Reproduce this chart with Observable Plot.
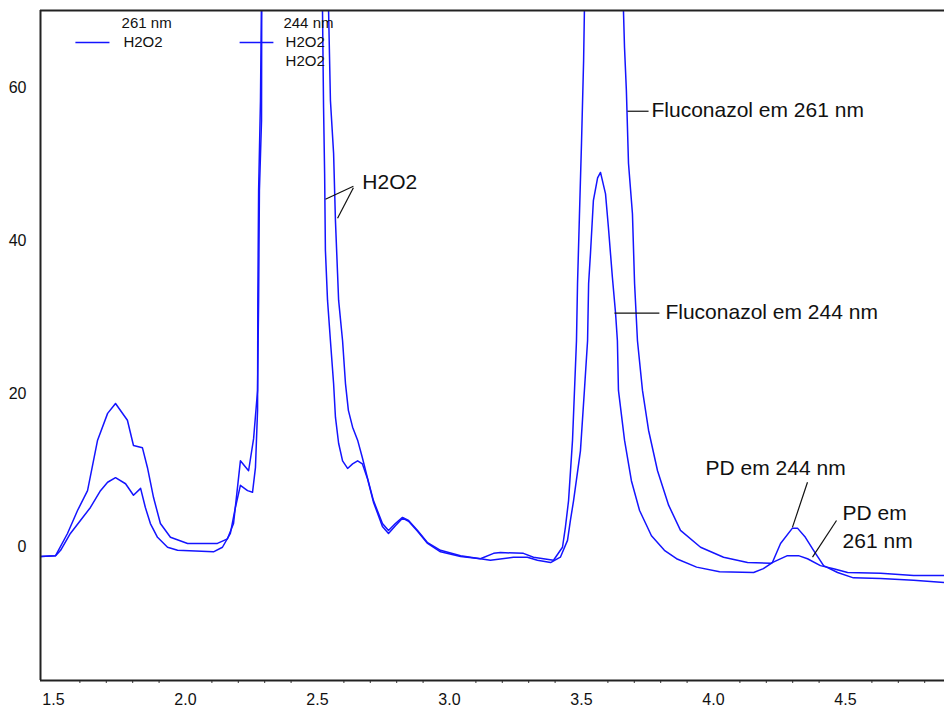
<!DOCTYPE html>
<html><head><meta charset="utf-8">
<script src="https://cdn.jsdelivr.net/npm/d3@7"></script>
<script src="https://cdn.jsdelivr.net/npm/@observablehq/plot@0.6"></script>
<style>body{margin:0;background:#fff} #chart svg{display:block}</style>
</head><body><div id="chart"></div>
<script>
// ---- data: retention time (min) and signal (mAU) ----
const x244 = [1.451,1.508,1.553,1.591,1.629,1.667,1.705,1.735,1.780,1.803,1.837,1.856,1.879,1.905,1.943,2.008,2.121,2.159,2.182,2.208,2.239,2.258,2.273,2.277,2.280,2.288,2.289,2.30,2.40,2.50,2.542,2.549,2.561,2.568,2.576,2.580,2.595,2.606,2.617,2.633,2.652,2.670,2.689,2.712,2.746,2.769,2.795,2.822,2.845,2.879,2.917,2.966,3.042,3.117,3.155,3.242,3.295,3.333,3.383,3.420,3.447,3.458,3.470,3.496,3.511,3.523,3.527,3.534,3.545,3.561,3.572,3.591,3.602,3.617,3.629,3.636,3.640,3.663,3.689,3.720,3.765,3.814,3.860,3.936,4.023,4.152,4.189,4.223,4.254,4.299,4.318,4.348,4.379,4.417,4.470,4.530,4.633,4.758,4.875];
const y244 = [-1.3,-1.2,1.7,4.7,7.3,13.9,17.4,18.7,16.5,13.2,12.9,10.3,6.4,3.0,1.2,0.4,0.4,1.0,3.0,11.2,9.9,14.1,20.4,32.2,46.5,55.7,75,200,300,200,70,58.3,51.4,42.6,35.7,32.2,26.9,21.3,17.8,15.6,13.9,11.6,9.0,6.0,3.0,2.1,3.0,3.8,3.4,2.1,0.5,-0.5,-1.2,-1.6,-1.8,-1.4,-1.4,-1.8,-2.1,-1.4,0.8,3.4,6.0,12.5,20.4,26.9,34.4,38.3,45.2,48.2,48.9,46.1,41.7,35.2,30.5,26.9,20.4,13.9,8.6,4.7,1.4,-0.5,-1.6,-2.7,-3.3,-3.4,-2.9,-2.1,0.4,2.4,2.4,1.2,-0.5,-2.5,-3.4,-4.1,-4.2,-4.4,-4.7];

const x261 = [1.451,1.508,1.527,1.564,1.602,1.640,1.678,1.705,1.735,1.773,1.803,1.830,1.848,1.867,1.894,1.932,1.970,2.106,2.140,2.170,2.189,2.208,2.235,2.254,2.265,2.273,2.274,2.277,2.284,2.288,2.30,2.40,2.48,2.519,2.523,2.527,2.530,2.538,2.549,2.561,2.568,2.580,2.595,2.614,2.633,2.652,2.670,2.689,2.712,2.746,2.769,2.795,2.822,2.845,2.879,2.917,2.966,3.042,3.117,3.167,3.193,3.280,3.318,3.394,3.428,3.439,3.451,3.466,3.481,3.485,3.492,3.500,3.508,3.511,3.53,3.57,3.62,3.659,3.663,3.670,3.678,3.693,3.701,3.712,3.731,3.754,3.788,3.830,3.875,3.951,4.038,4.129,4.216,4.280,4.322,4.356,4.405,4.455,4.508,4.633,4.758,4.875];
const y261 = [-1.3,-1.2,-0.5,1.7,3.4,5.1,7.3,8.4,9.0,8.2,6.7,7.6,5.1,3.0,1.2,-0.1,-0.5,-0.7,-0.1,1.7,5.1,8.0,7.3,7.1,10.3,17.8,32.2,46.5,58.3,72,200,300,200,70,57.4,48.8,38.7,32.2,26.9,21.3,16.9,13.5,11.2,10.2,10.8,11.2,10.8,8.9,5.8,2.6,1.7,2.7,3.7,3.3,2.0,0.4,-0.7,-1.3,-1.6,-0.9,-0.8,-0.9,-1.4,-1.8,-0.1,2.5,6.0,13.9,26.9,34.4,43.0,52.7,63.5,70,85,95,85,70,65.2,59.6,50.1,43.5,34.4,26.9,20.4,15.2,9.9,5.4,2.1,-0.1,-1.4,-2.1,-2.2,-1.2,-1.2,-1.6,-2.5,-2.9,-3.4,-3.5,-3.8,-3.8];

// ---- axes ----
const xDomain = [1.4508, 4.875];
const yDomain = [-17.52, 70.07];
const xTickValues = [1.5, 2.0, 2.5, 3.0, 3.5, 4.0, 4.5];
const xTickLabels = ["1.5", "2.0", "2.5", "3.0", "3.5", "4.0", "4.5"];
const xMinorTicks = [1.6,1.7,1.8,1.9,2.1,2.2,2.3,2.4,2.6,2.7,2.8,2.9,3.1,3.2,3.3,3.4,3.6,3.7,3.8,3.9,4.1,4.2,4.3,4.4,4.6,4.7,4.8];
const yTickValues = [0, 20, 40, 60];
const yTickLabels = ["0", "20", "40", "60"];

// ---- annotations ----
const annoText = ["Fluconazol em 261 nm", "Fluconazol em 244 nm", "H2O2", "PD em 244 nm", "PD em", "261 nm"];
const annoX = [3.765, 3.818, 2.670, 3.970, 4.489, 4.489];
const annoY = [57.0, 30.6, 47.6, 10.2, 4.3, 0.65];
const leaderX1 = [3.674, 3.625, 2.636, 2.636, 4.356, 4.466];
const leaderY1 = [56.9, 30.5, 47.1, 46.9, 8.4, 3.4];
const leaderX2 = [3.754, 3.795, 2.530, 2.576, 4.299, 4.375];
const leaderY2 = [56.9, 30.5, 45.4, 42.9, 2.5, -1.4];

// ---- legend ----
const legendText = ["261 nm", "H2O2", "244 nm", "H2O2", "H2O2"];
const legendX = [1.758, 1.765, 2.371, 2.379, 2.379];
const legendY = [68.4, 65.9, 68.4, 65.9, 63.4];
const legendLineX1 = [1.583, 2.205];
const legendLineX2 = [1.712, 2.333];
const legendLineY = [65.9, 65.9];

const blue = "#1414ff";
const s244 = x244.map((x, i) => ({x, y: y244[i]}));
const s261 = x261.map((x, i) => ({x, y: y261[i]}));
const annos = annoText.map((t, i) => ({t, x: annoX[i], y: annoY[i]}));
const leaders = leaderX1.map((x1, i) => ({x1, y1: leaderY1[i], x2: leaderX2[i], y2: leaderY2[i]}));
const legends = legendText.map((t, i) => ({t, x: legendX[i], y: legendY[i]}));
const legendLines = legendLineX1.map((x1, i) => ({x1, x2: legendLineX2[i], y: legendLineY[i]}));
const xLab = new Map(xTickValues.map((v, i) => [v, xTickLabels[i]]));
const yLab = new Map(yTickValues.map((v, i) => [v, yTickLabels[i]]));

const chart = Plot.plot({
  width: 944, height: 709,
  marginLeft: 40, marginRight: 0, marginTop: 10, marginBottom: 29,
  x: {domain: xDomain, label: null},
  y: {domain: yDomain, label: null},
  style: {fontFamily: "'Liberation Sans', Arial, sans-serif", fontSize: "16px", background: "white", color: "#111"},
  marks: [
    Plot.axisX({ticks: xMinorTicks, tickSize: 3, tickFormat: () => "", label: null, stroke: "#333"}),
    Plot.axisX({ticks: xTickValues, tickSize: 0, tickPadding: 13, tickFormat: d => xLab.get(d), label: null, fontSize: 16}),
    Plot.axisY({ticks: yTickValues, tickSize: 0, tickPadding: 14, tickFormat: d => yLab.get(d), label: null, fontSize: 16}),
    Plot.line(s261, {x: "x", y: "y", stroke: blue, strokeWidth: 1.5, clip: true}),
    Plot.line(s244, {x: "x", y: "y", stroke: blue, strokeWidth: 1.5, clip: true}),
    Plot.link(leaders, {x1: "x1", y1: "y1", x2: "x2", y2: "y2", stroke: "#111", strokeWidth: 1.2}),
    Plot.text(annos, {x: "x", y: "y", text: "t", textAnchor: "start", fontSize: 21, fill: "#111"}),
    Plot.link(legendLines, {x1: "x1", x2: "x2", y1: "y", y2: "y", stroke: blue, strokeWidth: 1.5}),
    Plot.text(legends, {x: "x", y: "y", text: "t", textAnchor: "start", fontSize: 15, fill: "#111"}),
    Plot.ruleX([xDomain[0]], {stroke: "#222", strokeWidth: 2}),
    Plot.ruleY([yDomain[0], yDomain[1]], {stroke: "#222", strokeWidth: 2})
  ]
});
document.getElementById("chart").appendChild(chart);
</script>
</body></html>
